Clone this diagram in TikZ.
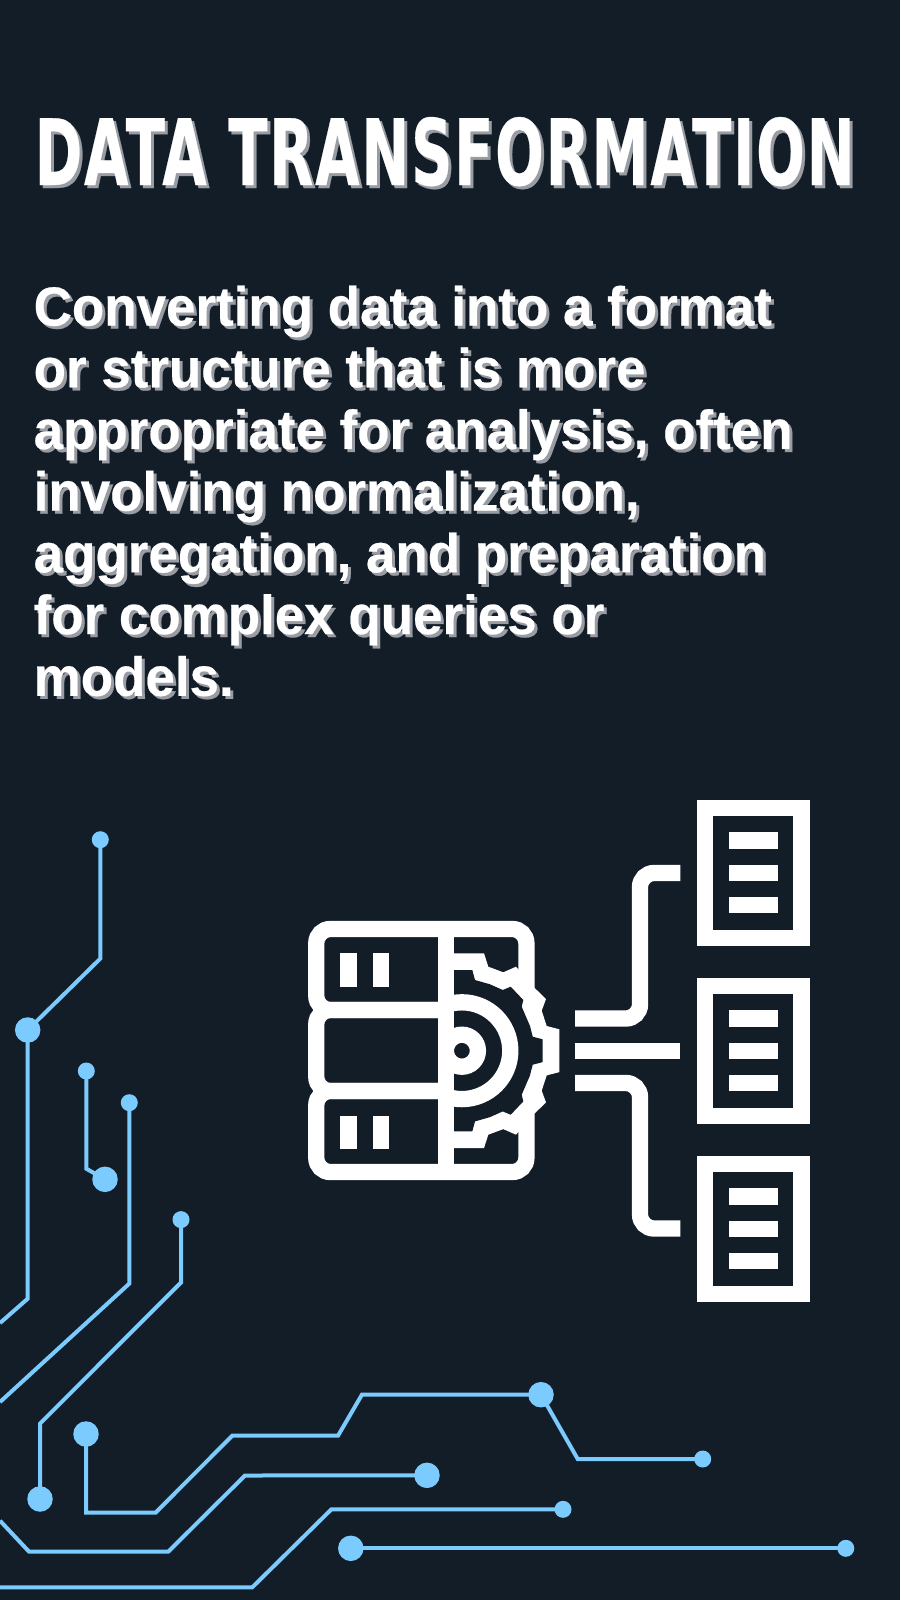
\documentclass[tikz,border=0pt]{standalone}
\usepackage{fontspec}
\usepackage{graphicx}
\setmainfont{Liberation Sans}
\newfontfamily\titlefont[LetterSpace=3,FakeBold=0.4]{DejaVu Sans Bold}
\newfontfamily\bodyfont[FakeStretch=0.9624,FakeBold=0.4]{Liberation Sans Bold}
\definecolor{bgc}{HTML}{131D28}
\definecolor{wire}{HTML}{7CCBFF}
\definecolor{shade}{HTML}{999DA3}
\newcommand{\titletext}[1]{\resizebox{820pt}{68pt}{\titlefont #1}}
\newcommand{\bodytext}{Converting data into a format\\or structure that is more\\appropriate for analysis, often\\involving normalization,\\aggregation, and preparation\\for complex queries or\\models.}
\tikzset{
  bodystyle/.style={anchor=north west,inner sep=0pt,align=left,font=\bodyfont\fontsize{55}{61.7}\selectfont},
  bigdot/.style={circle,fill=wire,inner sep=0pt,minimum size=25.5pt},
  smalldot/.style={circle,fill=wire,inner sep=0pt,minimum size=17pt},
  trace/.style={draw=wire,line width=4pt},
  icon/.style={draw=white,line width=16.3pt},
  iconc/.style={draw=white,line width=16.3pt,rounded corners=14pt},
  docbox/.style={draw=white,line width=16.2pt,fill=none},
  bar/.style={fill=white},
}
\begin{document}
\begin{tikzpicture}[x=1pt,y=-1pt]
\useasboundingbox (0,0) rectangle (900,1600);
\fill[bgc] (0,0) rectangle (900,1600);
% title
\node[anchor=base west,inner sep=0pt,text=shade] (titleshadow) at (37.5,188) {\titletext{DATA TRANSFORMATION}};
\node[anchor=base west,inner sep=0pt,text=white] (title) at (34.5,185) {\titletext{DATA TRANSFORMATION}};
% body
\node[bodystyle,text=shade] (bodyshadow) at (36.5,288.5) {\bodytext};
\node[bodystyle,text=white] (body) at (33.5,285.5) {\bodytext};
% circuit dots
\node[smalldot] (a1) at (100.3,839.7) {};
\node[bigdot]   (a2) at (27.7,1030) {};
\coordinate (a3) at (0,1323);
\node[smalldot] (b1) at (86.3,1071) {};
\node[bigdot]   (b2) at (105,1179.3) {};
\node[smalldot] (c1) at (129.3,1102.7) {};
\coordinate (c2) at (0,1402);
\node[smalldot] (d1) at (181,1219.6) {};
\node[bigdot]   (d2) at (40,1499) {};
\node[bigdot]   (e1) at (86,1434) {};
\node[bigdot]   (e2) at (541,1394.7) {};
\node[smalldot] (e3) at (702.7,1459) {};
\coordinate (f1) at (0,1520.7);
\node[bigdot]   (f2) at (427,1475.3) {};
\coordinate (g1) at (0,1587.3);
\node[smalldot] (g2) at (563,1509.3) {};
\node[bigdot]   (h1) at (350.8,1548.3) {};
\node[smalldot] (h2) at (845.8,1548.3) {};
% traces
\draw[trace] (a1.center) -- (100.3,958.6) -- (a2.center) -- (27.7,1298.7) -- (a3);
\draw[trace] (b1.center) -- (86.3,1168.7) -- (b2.center);
\draw[trace] (c1.center) -- (129.3,1283.6) -- (c2);
\draw[trace] (d1.center) -- (181,1282.5) -- (40,1423.6) -- (d2.center);
\draw[trace] (e1.center) -- (86,1512.5) -- (155.7,1512.5) -- (232.3,1435.7) -- (338,1435.7) -- (361.9,1394.7) -- (e2.center) -- (577.7,1459) -- (e3.center);
\draw[trace] (f1) -- (29,1551.6) -- (168.3,1551.6) -- (245,1475.5) -- (f2.center);
\draw[trace] (g1) -- (252.3,1587.3) -- (331.4,1509.3) -- (g2.center);
\draw[trace] (h1.center) -- (h2.center);
% server
\draw[iconc] (445.8,929) -- (316.3,929) -- (316.3,1010) -- (445.8,1010);
\draw[iconc] (445.8,1010) -- (316.3,1010) -- (316.3,1091) -- (445.8,1091);
\draw[iconc] (445.8,1091) -- (316.3,1091) -- (316.3,1172) -- (445.8,1172);
\draw[iconc] (445.8,929) -- (526.4,929) -- (526.4,1000);
\draw[iconc] (445.8,1172) -- (526.4,1172) -- (526.4,1101);
% drive slots
\fill[bar] (340.2,953) rectangle (356.6,986.6);
\fill[bar] (372.8,953) rectangle (389,986.6);
\fill[bar] (340.2,1115.7) rectangle (356.6,1148.5);
\fill[bar] (372.8,1115.7) rectangle (389,1148.5);
% gear outer
\fill[white] (453,953.3) -- (484,953.3) -- (488.3,966.7) -- (503.3,972.3) -- (516,966.7) -- (535,988.3) -- (546,999) -- (541.7,1010.7) -- (546.7,1026) -- (559.3,1029.3)
  -- (559.3,1072.1) -- (546.7,1075.4) -- (541.7,1090.7) -- (546,1102.4) -- (535,1113.1) -- (516,1134.7) -- (503.3,1129.1) -- (488.3,1134.7) -- (484,1148.1) -- (453,1148.1) -- cycle;
% gear inner
\fill[bgc] (453.8,970) -- (472.3,970) -- (475,980) -- (490,984.3) -- (502.7,990) -- (510.7,986.7) -- (523.3,1000) -- (521.7,1006.7) -- (530,1026) -- (532.7,1036.7) -- (542.7,1039.3)
  -- (542.7,1062.1) -- (532.7,1064.7) -- (530,1075.4) -- (521.7,1094.7) -- (523.3,1101.4) -- (510.7,1114.7) -- (502.7,1111.4) -- (490,1117.1) -- (475,1121.4) -- (472.3,1131.4) -- (453.8,1131.4) -- cycle;
% rings
\begin{scope}
\clip (445.8,900) rectangle (600,1200);
\draw[icon] (461.9,1050.7) circle[radius=48.4pt];
\draw[icon] (461.9,1050.7) circle[radius=16pt];
\end{scope}
\draw[icon] (445.8,921) -- (445.8,1180);
% connectors
\coordinate (src1) at (575.2,1018.5);
\coordinate (src2) at (575.2,1050.7);
\coordinate (src3) at (575.2,1083);
\coordinate (dst1) at (680.4,873);
\coordinate (dst2) at (680.4,1050.7);
\coordinate (dst3) at (680.4,1228.5);
\draw[iconc] (src1) -- (640,1018.5) -- (640,873) -- (dst1);
\draw[icon] (src2) -- (dst2);
\draw[iconc] (src3) -- (640,1083) -- (640,1228.5) -- (dst3);
% documents
\draw[docbox] (704.6,808) rectangle (801.4,938);
\fill[bar] (728.8,832.3) rectangle (777.5,848.5);
\fill[bar] (728.8,864.7) rectangle (777.5,880.9);
\fill[bar] (728.8,897) rectangle (777.5,913.2);
\draw[docbox] (704.6,986) rectangle (801.4,1116);
\fill[bar] (728.8,1010.3) rectangle (777.5,1026.5);
\fill[bar] (728.8,1042.7) rectangle (777.5,1058.9);
\fill[bar] (728.8,1075) rectangle (777.5,1091.2);
\draw[docbox] (704.6,1164) rectangle (801.4,1294);
\fill[bar] (728.8,1188.3) rectangle (777.5,1204.5);
\fill[bar] (728.8,1220.7) rectangle (777.5,1236.9);
\fill[bar] (728.8,1253) rectangle (777.5,1269.2);
\end{tikzpicture}
\end{document}
